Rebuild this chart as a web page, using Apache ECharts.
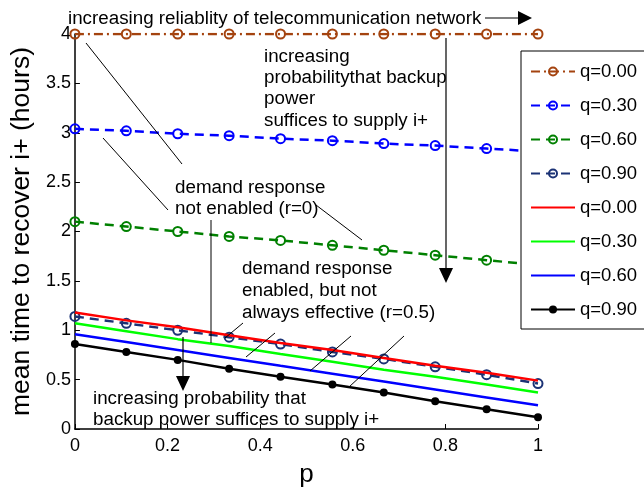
<!DOCTYPE html>
<html>
<head>
<meta charset="utf-8">
<script src="https://cdn.jsdelivr.net/npm/echarts@6/dist/echarts.min.js"></script>
<style>
html,body{margin:0;padding:0;background:#fff;}
#chart{width:644px;height:493px;}
</style>
</head>
<body>
<div id="chart"></div>
<script>
// p values (x axis)
var pValues = [0, 0.111, 0.222, 0.333, 0.444, 0.556, 0.667, 0.778, 0.889, 1];
// demand response not enabled (r=0): dashed series
var r0_q000 = [4.00, 4.00, 4.00, 4.00, 4.00, 4.00, 4.00, 4.00, 4.00, 4.00];
var r0_q030 = [3.04, 3.02, 2.99, 2.97, 2.94, 2.92, 2.89, 2.87, 2.84, 2.81];
var r0_q060 = [2.10, 2.05, 2.00, 1.95, 1.91, 1.86, 1.81, 1.76, 1.71, 1.66];
var r0_q090 = [1.14, 1.07, 1.00, 0.93, 0.86, 0.78, 0.71, 0.63, 0.55, 0.46];
// demand response enabled, not always effective (r=0.5): solid series
var r5_q000 = [1.18, 1.10, 1.03, 0.95, 0.87, 0.80, 0.72, 0.64, 0.57, 0.49];
var r5_q030 = [1.07, 0.99, 0.91, 0.84, 0.76, 0.68, 0.60, 0.53, 0.45, 0.37];
var r5_q060 = [0.96, 0.88, 0.80, 0.72, 0.64, 0.56, 0.48, 0.40, 0.32, 0.24];
var r5_q090 = [0.86, 0.78, 0.70, 0.61, 0.53, 0.45, 0.37, 0.28, 0.20, 0.12];
// legend labels
var legendLabels = ['q=0.00', 'q=0.30', 'q=0.60', 'q=0.90', 'q=0.00', 'q=0.30', 'q=0.60', 'q=0.90'];

var FONT = 'Liberation Sans, Arial, sans-serif';

function pts(vals) { return vals.map(function (v, i) { return [pValues[i], v]; }); }

var dashedDefs = [
  { vals: r0_q000, color: '#a4430f', type: [9, 4, 2, 4] },
  { vals: r0_q030, color: '#0000ff', type: [9, 6] },
  { vals: r0_q060, color: '#008000', type: [9, 6] },
  { vals: r0_q090, color: '#1b3275', type: [9, 6] }
];
var solidDefs = [
  { vals: r5_q000, color: '#ff0000', symbol: 'none' },
  { vals: r5_q030, color: '#00ff00', symbol: 'none' },
  { vals: r5_q060, color: '#0000ff', symbol: 'none' },
  { vals: r5_q090, color: '#000000', symbol: 'circle' }
];

var series = [];
var legendData = [];
dashedDefs.forEach(function (d, i) {
  var nm = legendLabels[i] + '|a';
  legendData.push({ name: nm });
  series.push({
    name: nm, type: 'line', data: pts(d.vals),
    symbol: 'circle', symbolSize: 9,
    lineStyle: { color: d.color, width: 2.5, type: d.type },
    itemStyle: { color: 'rgba(255,255,255,0)', borderColor: d.color, borderWidth: 2 },
    animation: false, z: 2
  });
});
solidDefs.forEach(function (d, i) {
  var nm = legendLabels[4 + i] + '|b';
  var item = { name: nm };
  if (d.symbol === 'none') item.itemStyle = { color: 'rgba(0,0,0,0)', borderWidth: 0, opacity: 0 };
  legendData.push(item);
  series.push({
    name: nm, type: 'line', data: pts(d.vals),
    symbol: d.symbol, symbolSize: 8, showSymbol: d.symbol !== 'none',
    lineStyle: { color: d.color, width: 2.5, type: 'solid' },
    itemStyle: { color: d.color, borderWidth: 0 },
    animation: false, z: 3
  });
});

function txt(x, y, s) {
  return { type: 'text', x: x, y: y, z: 100,
    style: { text: s, font: '18.8px ' + FONT, fill: '#000', textVerticalAlign: 'middle', verticalAlign: 'middle' } };
}
function ln(x1, y1, x2, y2, w) {
  return { type: 'line', z: 100, shape: { x1: x1, y1: y1, x2: x2, y2: y2 },
    style: { stroke: '#000', lineWidth: w || 1 } };
}
function tri(points) {
  return { type: 'polygon', z: 100, shape: { points: points }, style: { fill: '#000' } };
}

var graphics = [
  txt(68, 19, 'increasing reliablity of telecommunication network'),
  ln(485, 18, 522, 18, 1.2),
  tri([[518, 11], [532, 18], [518, 25]]),
  txt(264, 57, 'increasing'),
  txt(264, 78, 'probabilitythat backup'),
  txt(264, 99, 'power'),
  txt(264, 121, 'suffices to supply i+'),
  ln(446, 38, 446, 270, 1.2),
  tri([[439, 268], [453, 268], [446, 283]]),
  ln(86, 43, 182, 164),
  ln(103, 138, 168, 210),
  txt(175, 188, 'demand response'),
  txt(175, 209, 'not enabled (r=0)'),
  ln(316, 205, 362, 240),
  ln(211, 220, 211, 343),
  txt(242, 269, 'demand response'),
  txt(242, 291, 'enabled, but not'),
  txt(242, 313, 'always effective (r=0.5)'),
  ln(243, 323, 225, 338),
  ln(275, 333, 246, 357),
  ln(351, 336, 310, 371),
  ln(404, 336, 349, 387),
  ln(183, 337, 183, 378, 1.2),
  tri([[176, 376], [190, 376], [183, 391]]),
  txt(93, 399, 'increasing probability that'),
  txt(93, 420, 'backup power suffices to supply i+')
];

var chart = echarts.init(document.getElementById('chart'), null, { renderer: 'canvas' });
chart.setOption({
  animation: false,
  backgroundColor: '#fff',
  textStyle: { fontFamily: FONT },
  grid: { left: 71, right: 106, top: 34, bottom: 54, containLabel: false },
  xAxis: {
    type: 'value', min: 0, max: 1, interval: 0.2,
    name: 'p', nameLocation: 'middle', nameGap: 33,
    nameTextStyle: { fontSize: 26, color: '#000', fontFamily: FONT },
    axisLine: { show: true, lineStyle: { color: '#000', width: 1.5 } },
    axisTick: { show: true, inside: true, length: 5, lineStyle: { color: '#000' } },
    axisLabel: { fontSize: 18, color: '#000', margin: 8, fontFamily: FONT },
    splitLine: { show: false }
  },
  yAxis: {
    type: 'value', min: 0, max: 4, interval: 0.5,
    name: 'mean time to recover i+ (hours)', nameLocation: 'middle', nameGap: 30,
    nameTextStyle: { fontSize: 26.5, color: '#000', fontFamily: FONT },
    axisLine: { show: true, lineStyle: { color: '#000', width: 1.5 } },
    axisTick: { show: true, inside: true, length: 5, lineStyle: { color: '#000' } },
    axisLabel: { fontSize: 18, color: '#000', margin: 4, fontFamily: FONT },
    splitLine: { show: false }
  },
  legend: {
    data: legendData, orient: 'vertical', left: 521, top: 51,
    itemWidth: 44, itemHeight: 10, itemGap: 15,
    padding: [11, 30, 10, 9],
    backgroundColor: '#fff', borderColor: '#000', borderWidth: 1,
    textStyle: { fontSize: 18.5, color: '#000', fontFamily: FONT },
    formatter: function (n) { return n.split('|')[0]; },
    selectedMode: false, z: 10
  },
  series: series,
  graphic: graphics
});
</script>
</body>
</html>
